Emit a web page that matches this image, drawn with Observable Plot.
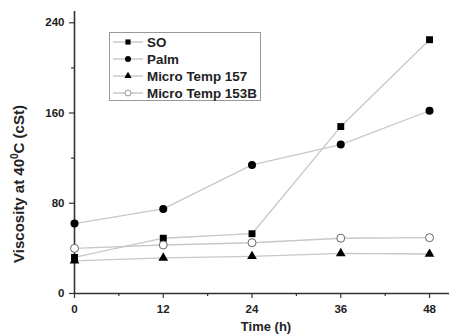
<!DOCTYPE html>
<html><head><meta charset="utf-8">
<script src="https://cdn.jsdelivr.net/npm/d3@7"></script>
<script src="https://cdn.jsdelivr.net/npm/@observablehq/plot@0.6"></script>
<style>
body{margin:0;background:#fff}
#chart{position:relative;width:449px;height:335px;overflow:hidden}
</style>
</head><body><div id="chart"></div>
<script>
const times = [0, 12, 24, 36, 48];
const seriesNames = ["SO", "Palm", "Micro Temp 157", "Micro Temp 153B"];
const soValues = [32, 49, 53, 148, 225];
const palmValues = [62, 75, 114, 132, 162];
const mt157Values = [29, 31.5, 33, 35.5, 35];
const mt153bValues = [40, 43, 45, 49, 49.5];
const yTicks = [0, 80, 160, 240];
const yMinorTicks = [40, 120, 200];
const xTicks = [0, 12, 24, 36, 48];
const xMinorTicks = [6, 18, 30, 42];
const yLabel = "Viscosity at 40";
const xLabel = "Time (h)";

const valuesBySeries = [soValues, palmValues, mt157Values, mt153bValues];
const rows = seriesNames.flatMap((s, i) => times.map((t, j) => ({s, t, v: valuesBySeries[i][j]})));
const symbols = ["square", "circle", "triangle", "circle"];
const fills = ["#000", "#000", "#000", "#fff"];
const strokes = ["none", "none", "none", "#666"];
const radii = [3.9, 4, 3.6, 4];

const font = "'Liberation Sans', Arial, sans-serif";
const axisColor = "#333";

const plot = Plot.plot({
  width: 449, height: 335,
  marginLeft: 74, marginRight: 0, marginTop: 11, marginBottom: 42,
  style: {fontFamily: font, fontWeight: "bold", fontSize: "11.5px", color: "#222", background: "#fff"},
  x: {domain: [0, 50.7]},
  y: {domain: [0, 250]},
  marks: [
    Plot.axisY(yTicks, {tickSize: 5, tickPadding: 5, label: null, stroke: axisColor, strokeWidth: 1.2}),
    Plot.axisY(yMinorTicks, {tickSize: 3, tickFormat: () => "", label: null, stroke: axisColor, strokeWidth: 1.2}),
    Plot.axisX(xTicks, {tickSize: 5, tickPadding: 6, label: null, stroke: axisColor, strokeWidth: 1.2}),
    Plot.axisX(xMinorTicks, {tickSize: 3, tickFormat: () => "", label: null, stroke: axisColor, strokeWidth: 1.2}),
    Plot.ruleX([0], {stroke: axisColor, strokeWidth: 1.6}),
    Plot.ruleY([0], {stroke: axisColor, strokeWidth: 1.6}),
    Plot.line(rows, {x: "t", y: "v", z: "s", stroke: "#c8c8c8", strokeWidth: 1.3}),
    ...seriesNames.map((name, i) => Plot.dot(rows.filter(d => d.s === name), {
      x: "t", y: "v", symbol: () => symbols[i], r: radii[i],
      fill: fills[i], stroke: strokes[i], strokeWidth: 1
    }))
  ]
});

document.getElementById("chart").appendChild(plot);
const svg = d3.select(plot);

// Y label
const yl = svg.append("text")
  .attr("transform", "translate(24,184) rotate(-90)")
  .attr("text-anchor", "middle")
  .attr("font-family", font).attr("font-weight", "bold").attr("font-size", 15)
  .attr("fill", "#222");
yl.append("tspan").text(yLabel);
yl.append("tspan").attr("dy", -6).attr("font-size", 10).text("0");
yl.append("tspan").attr("dy", 6).text("C (cSt)");

// X label
svg.append("text")
  .attr("x", 266).attr("y", 331)
  .attr("text-anchor", "middle")
  .attr("font-family", font).attr("font-weight", "bold").attr("font-size", 13)
  .attr("fill", "#222").text(xLabel);

// Legend
const lg = svg.append("g").attr("text-anchor", "start");
lg.append("rect").attr("x", 109.5).attr("y", 32.5).attr("width", 151).attr("height", 68)
  .attr("fill", "#fff").attr("stroke", "#999").attr("stroke-width", 1);
seriesNames.forEach((name, i) => {
  const y = 42 + i * 17;
  lg.append("line").attr("x1", 113).attr("x2", 143).attr("y1", y).attr("y2", y)
    .attr("stroke", "#bbb").attr("stroke-width", 1.2);
  const sym = d3.symbol().type({square: d3.symbolSquare, circle: d3.symbolCircle, triangle: d3.symbolTriangle}[symbols[i]])
    .size(Math.PI * Math.pow(radii[i] * 0.75, 2));
  lg.append("path").attr("d", sym()).attr("transform", `translate(128,${y})`)
    .attr("fill", fills[i]).attr("stroke", i === 3 ? "#999" : "none");
  lg.append("text").attr("x", 147).attr("y", y).attr("dy", "0.36em")
    .attr("text-anchor", "start")
    .attr("font-family", font).attr("font-weight", "bold").attr("font-size", 13.4)
    .attr("fill", "#222").text(name);
});
</script>
</body></html>
